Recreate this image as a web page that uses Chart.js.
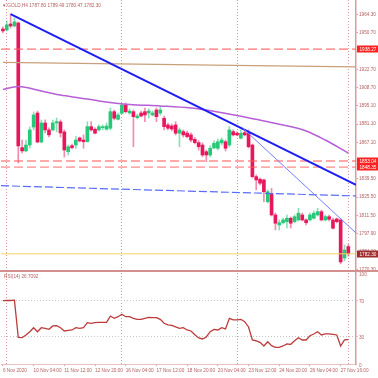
<!DOCTYPE html>
<html>
<head>
<meta charset="utf-8">
<script src="https://cdn.jsdelivr.net/npm/chart.js@4.4.0/dist/chart.umd.min.js"></script>
<style>
  html, body { margin: 0; padding: 0; background: #fff; }
  #wrap { position: relative; width: 378px; height: 378px; overflow: hidden; background: #fff; }
  #priceChart { position: absolute; left: 0; top: 0; }
  #rsiChart { position: absolute; left: 0; top: 270px; }
  .sep { position: absolute; left: 0; top: 270px; width: 378px; height: 2px; background: #d48f8f; }
  .lbl { position: absolute; font: 4.7px "Liberation Sans", Arial, sans-serif; color: #b4605f; white-space: nowrap; }
</style>
</head>
<body>
<div id="wrap">
  <canvas id="priceChart" width="378" height="271"></canvas>
  <canvas id="rsiChart" width="378" height="108"></canvas>
  <div class="sep"></div>
  <div class="lbl" id="title" style="left:3px;top:3px"></div>
  <div class="lbl" id="rsiTitle" style="left:4px;top:274px"></div>
</div>
<script>
// H4 bars, 6 Nov 2020 20:00 .. 30 Nov 2020 00:00
const open = [1953.6, 1952.9, 1957.4, 1955.9, 1958.2, 1863.2, 1860.7, 1865.2, 1878.9, 1889.6,
  1867.5, 1882.0, 1876.7, 1876.7, 1882.0, 1882.8, 1875.2, 1860.1, 1864.7, 1865.2,
  1870.6, 1869.0, 1867.7, 1879.2, 1877.2, 1876.7, 1878.4, 1877.2, 1878.0, 1890.6,
  1884.8, 1889.4, 1895.7, 1889.6, 1890.6, 1886.0, 1889.6, 1890.6, 1889.6, 1888.1,
  1891.9, 1889.6, 1885.6, 1880.5, 1879.7, 1880.5, 1874.2, 1875.4, 1874.2, 1872.9,
  1869.5, 1867.0, 1865.2, 1860.1, 1857.6, 1862.9, 1862.7, 1866.8, 1867.7, 1865.2,
  1875.4, 1874.2, 1870.4, 1874.6, 1874.4, 1865.2, 1841.1, 1839.1, 1838.6, 1822.0,
  1828.4, 1811.9, 1804.3, 1806.0, 1806.8, 1809.4, 1806.8, 1808.1, 1811.9, 1808.1,
  1808.1, 1809.4, 1811.9, 1814.4, 1808.1, 1810.6, 1808.1, 1808.9, 1808.1, 1779.1, 1787.80];
const high = [1955.2, 1959.7, 1965.0, 1962.0, 1959.0, 1869.0, 1869.0, 1879.0, 1890.4, 1891.1,
  1884.3, 1884.3, 1878.2, 1884.3, 1885.8, 1884.3, 1876.7, 1865.2, 1866.0, 1871.6,
  1871.3, 1872.9, 1883.0, 1883.0, 1878.2, 1880.5, 1880.5, 1882.0, 1893.4, 1891.9,
  1889.6, 1897.0, 1897.2, 1892.7, 1891.9, 1888.8, 1891.1, 1893.4, 1892.7, 1891.1,
  1893.4, 1894.2, 1887.3, 1882.0, 1881.2, 1883.0, 1878.2, 1876.7, 1875.9, 1874.4,
  1871.0, 1868.5, 1866.8, 1861.4, 1864.5, 1868.3, 1869.8, 1870.6, 1869.0, 1879.2,
  1876.7, 1875.2, 1876.7, 1875.9, 1876.7, 1866.0, 1842.4, 1840.1, 1839.3, 1831.0,
  1832.2, 1813.4, 1808.1, 1809.6, 1811.9, 1810.4, 1811.9, 1817.0, 1813.4, 1808.9,
  1813.4, 1814.9, 1817.0, 1815.7, 1811.9, 1811.9, 1809.6, 1809.6, 1808.9, 1789.0, 1789.49];
const low = [1950.6, 1952.1, 1954.4, 1955.2, 1851.5, 1859.2, 1859.9, 1862.9, 1876.7, 1866.8,
  1866.8, 1874.4, 1871.3, 1875.9, 1875.2, 1871.3, 1856.1, 1857.6, 1862.2, 1862.7,
  1867.5, 1862.7, 1867.5, 1875.9, 1873.6, 1875.9, 1876.7, 1876.7, 1876.7, 1884.3,
  1884.3, 1888.8, 1889.6, 1888.8, 1863.9, 1885.1, 1886.6, 1883.0, 1885.8, 1887.3,
  1883.0, 1888.1, 1876.7, 1876.7, 1875.9, 1872.9, 1863.9, 1871.3, 1870.6, 1867.5,
  1866.0, 1861.4, 1856.3, 1852.5, 1856.1, 1862.7, 1861.4, 1865.2, 1860.7, 1863.7,
  1872.1, 1872.1, 1869.8, 1872.1, 1862.9, 1840.1, 1831.0, 1834.8, 1822.0, 1821.0,
  1811.1, 1800.5, 1800.5, 1805.0, 1802.0, 1802.0, 1805.8, 1807.3, 1807.3, 1804.3,
  1807.3, 1808.9, 1811.1, 1807.3, 1807.3, 1807.3, 1801.2, 1805.8, 1774.6, 1776.9, 1780.47];
const close = [1952.1, 1956.7, 1955.9, 1959.0, 1864.5, 1860.7, 1865.2, 1876.7, 1888.1, 1867.5,
  1882.0, 1876.7, 1872.9, 1882.0, 1883.0, 1874.4, 1861.4, 1863.9, 1863.2, 1869.0,
  1868.3, 1867.7, 1879.2, 1876.7, 1874.2, 1879.2, 1878.8, 1879.7, 1890.6, 1885.6,
  1888.1, 1895.7, 1890.6, 1891.1, 1886.8, 1887.3, 1887.3, 1888.1, 1891.1, 1889.6,
  1886.8, 1891.9, 1879.2, 1878.0, 1877.4, 1874.2, 1876.7, 1872.9, 1871.6, 1869.0,
  1867.0, 1863.9, 1857.6, 1857.6, 1862.7, 1866.5, 1867.7, 1869.0, 1862.7, 1876.7,
  1872.9, 1872.9, 1874.2, 1872.9, 1863.9, 1841.1, 1838.6, 1836.1, 1829.6, 1829.6,
  1811.9, 1805.6, 1806.0, 1808.1, 1809.4, 1805.6, 1810.6, 1813.2, 1808.1, 1806.0,
  1811.9, 1813.2, 1814.4, 1808.1, 1810.6, 1808.6, 1801.8, 1806.8, 1776.1, 1785.2, 1782.30];
const rsi = [69.6, 70.0, 69.8, 70.2, 29.3, 28.9, 31.9, 35.5, 39.9, 35.5,
  39.9, 39.2, 38.1, 41.8, 42.1, 39.9, 36.3, 37.0, 37.4, 39.9,
  39.2, 39.9, 45.4, 44.7, 45.4, 45.8, 45.8, 45.8, 52.7, 50.2,
  52.0, 54.6, 52.0, 52.0, 50.2, 49.1, 49.1, 50.2, 51.3, 51.0,
  51.0, 49.1, 44.7, 42.9, 42.5, 40.7, 39.2, 39.9, 37.4, 36.3,
  32.2, 28.6, 27.5, 29.7, 35.5, 38.1, 37.4, 39.9, 38.5, 50.2,
  48.4, 48.4, 49.1, 46.5, 40.7, 26.4, 25.3, 23.8, 19.8, 24.5,
  20.2, 18.3, 18.3, 19.8, 22.0, 21.6, 25.6, 28.9, 26.4, 26.4,
  31.1, 33.0, 35.5, 31.9, 33.0, 33.0, 32.6, 31.9, 19.8, 26.4, 26.7092];

// moving averages (bar index, price)
const maFastIdx = [0, 4, 10, 15, 20, 25, 33, 41, 49, 56, 63, 68, 73, 79, 84, 90];
const maFastVal = [1907.5, 1909.8, 1906.4, 1903.3, 1901.1, 1898.8, 1896.1, 1895.0, 1893.4, 1890.4, 1886.6, 1883.5, 1880.5, 1875.9, 1869.0, 1859.1];
const maSlowIdx = [0, 30, 60, 92];
const maSlowVal = [1928.2, 1927.0, 1925.9, 1924.7];

// drawn objects
const trendMain = [[2, 1965.0], [92, 1834.8]];
const trendThin = [[62.5, 1878.0], [92, 1798.2]];
const trendDashed = [[-0.5, 1834.2], [92, 1826.4]];
const levels = [1938.27, 1853.04, 1848.35];

const weekStarts = [1, 31, 61, 90];
const priceTicks = [1964.30, 1950.70, 1936.70, 1922.70, 1908.70, 1895.10, 1881.10, 1867.10,
  1853.30, 1839.50, 1825.50, 1811.50, 1797.90, 1784.10, 1770.30];
const rsiTicks = [0, 30, 70, 100];
const timeTickIdx = [0, 8, 16, 24, 32, 40, 48, 56, 64, 72, 80, 88];
const timeTickLabels = ['6 Nov 2020', '10 Nov 04:00', '11 Nov 12:00', '12 Nov 20:00', '16 Nov 04:00',
  '17 Nov 12:00', '18 Nov 20:00', '20 Nov 04:00', '23 Nov 12:00', '24 Nov 20:00', '26 Nov 04:00', '27 Nov 16:00'];

const X_MIN = -0.5, X_MAX = 92;
const FONT = '"Liberation Sans", Arial, sans-serif';
const FSIZE = 4.7;
const AXIS_TXT = '#b4605f';
const AXIS_LINE = '#dc9c9c';
const GRID = '#dc9494';
const BULL = '#26c978', BEAR = '#e8175d';

const last = close.length - 1;
document.getElementById('title').textContent = '\u25BE GOLD,H4 ' + open[last].toFixed(2) + ' ' +
  high[last].toFixed(2) + ' ' + low[last].toFixed(2) + ' ' + close[last].toFixed(2);
document.getElementById('rsiTitle').textContent = 'RSI(14) ' + rsi[last].toFixed(4);

function seg(p) { return p.map(a => ({x: a[0], y: a[1]})) }
function flat(v) { return [{x: X_MIN, y: v}, {x: X_MAX, y: v}] }
function noPad(s) { s.paddingLeft = 0; s.paddingRight = 0; s.paddingTop = 0; s.paddingBottom = 0 }

const lineBase = {type: 'line', pointRadius: 0, fill: false, tension: 0};

const datasets = [
  {
    type: 'bar', label: 'wick', order: 3, grouped: false, barThickness: 1, minBarLength: 1,
    data: low.map((l, i) => ({x: i, y: [l, high[i]]})),
    backgroundColor: close.map((c, i) => c >= open[i] ? 'rgba(38,201,120,0.55)' : 'rgba(232,23,93,0.5)')
  },
  {
    type: 'bar', label: 'body', order: 2, grouped: false, barThickness: 3, minBarLength: 1,
    data: open.map((o, i) => ({x: i, y: [o, close[i]]})),
    backgroundColor: close.map((c, i) => c >= open[i] ? BULL : BEAR)
  },
  {...lineBase, order: 1, data: maSlowIdx.map((x, i) => ({x: x, y: maSlowVal[i]})), borderColor: '#c9a07a', borderWidth: 1.3},
  {...lineBase, order: 1, data: maFastIdx.map((x, i) => ({x: x, y: maFastVal[i]})), borderColor: '#b65fd6', borderWidth: 1.5, cubicInterpolationMode: 'monotone'},
  {...lineBase, order: 1, data: flat(close[last]), borderColor: '#f4d35e', borderWidth: 1},
  {...lineBase, order: 1, data: flat(levels[0]), borderColor: 'rgba(255,90,90,0.85)', borderWidth: 1.2, borderDash: [9, 4]},
  {...lineBase, order: 1, data: flat(levels[1]), borderColor: 'rgba(255,90,90,0.7)', borderWidth: 1.4, borderDash: [9, 4]},
  {...lineBase, order: 1, data: flat(levels[2]), borderColor: 'rgba(255,90,90,0.7)', borderWidth: 1.4, borderDash: [9, 4]},
  {...lineBase, order: 1, data: seg(trendDashed), borderColor: '#5a6cff', borderWidth: 1.2, borderDash: [8, 3]},
  {...lineBase, order: 0, data: seg(trendThin), borderColor: '#7080ff', borderWidth: 1},
  {...lineBase, order: 0, data: seg(trendMain), borderColor: '#1d1dfa', borderWidth: 2}
];

// red / dark price tags on the right axis
const tagPlugin = {
  id: 'tags',
  afterDraw(chart) {
    const ctx = chart.ctx, y = chart.scales.y, x0 = chart.chartArea.right + 1;
    ctx.save();
    ctx.font = FSIZE + 'px ' + FONT;
    ctx.textBaseline = 'middle';
    ctx.textAlign = 'left';
    const tag = (v, bg) => {
      const py = Math.round(y.getPixelForValue(v));
      ctx.fillStyle = bg;
      ctx.fillRect(x0, py - 3.5, 378 - x0, 7);
      ctx.fillStyle = '#fff';
      ctx.fillText(v.toFixed(2), x0 + 2.5, py + 0.5);
    };
    levels.forEach(v => tag(v, '#ff2020'));
    tag(close[last], '#9e2b2b');
    ctx.restore();
  }
};

new Chart(document.getElementById('priceChart'), {
  type: 'bar',
  data: {datasets: datasets},
  options: {
    responsive: false,
    animation: false,
    events: [],
    layout: {padding: {left: 1, right: 0, top: 0, bottom: 0}},
    plugins: {legend: {display: false}, tooltip: {enabled: false}},
    scales: {
      x: {
        type: 'linear', min: X_MIN, max: X_MAX, offset: false,
        afterBuildTicks: s => { s.ticks = weekStarts.map(v => ({value: v})) },
        afterFit: s => { s.height = 0; noPad(s) },
        ticks: {display: false},
        grid: {offset: false, drawTicks: false, color: GRID, lineWidth: 1},
        border: {display: false, dash: [1, 2]}
      },
      y: {
        position: 'right', min: 1769.2, max: 1975.7, beginAtZero: false,
        afterBuildTicks: s => { s.ticks = priceTicks.map(v => ({value: v})) },
        afterFit: s => { s.width = 22; noPad(s) },
        ticks: {
          font: {size: FSIZE, family: FONT}, color: AXIS_TXT, padding: 1,
          callback: v => v.toFixed(2)
        },
        grid: {drawOnChartArea: false, tickLength: 2, color: AXIS_LINE},
        border: {display: true, color: AXIS_LINE, width: 1.5}
      }
    }
  },
  plugins: [tagPlugin]
});

new Chart(document.getElementById('rsiChart'), {
  type: 'line',
  data: {
    datasets: [{
      data: rsi.map((v, i) => ({x: i, y: v})),
      borderColor: '#bb3b3b', borderWidth: 1.3, pointRadius: 0, tension: 0, fill: false
    }]
  },
  options: {
    responsive: false,
    animation: false,
    events: [],
    layout: {padding: {left: 1, right: 0, top: 3, bottom: 0}},
    plugins: {legend: {display: false}, tooltip: {enabled: false}},
    scales: {
      x: {
        type: 'linear', min: X_MIN, max: X_MAX, offset: false, position: 'bottom',
        afterBuildTicks: s => { s.ticks = timeTickIdx.map(v => ({value: v})) },
        afterFit: s => { s.height = 14; noPad(s) },
        ticks: {
          autoSkip: false, maxRotation: 0, align: 'start', padding: 2,
          font: {size: FSIZE, family: FONT}, color: AXIS_TXT,
          callback: (v, i) => timeTickLabels[i]
        },
        grid: {drawOnChartArea: false, tickLength: 2, color: AXIS_LINE},
        border: {display: true, color: '#e8c0c0', width: 1}
      },
      xg: {
        type: 'linear', min: X_MIN, max: X_MAX, offset: false, position: 'bottom',
        afterBuildTicks: s => { s.ticks = weekStarts.map(v => ({value: v})) },
        afterFit: s => { s.height = 0; noPad(s) },
        ticks: {display: false},
        grid: {drawTicks: false, color: GRID, lineWidth: 1},
        border: {display: false, dash: [1, 2]}
      },
      y: {
        position: 'right', min: 0, max: 100,
        afterBuildTicks: s => { s.ticks = rsiTicks.map(v => ({value: v})) },
        afterFit: s => { s.width = 22; noPad(s) },
        ticks: {font: {size: FSIZE, family: FONT}, color: AXIS_TXT, padding: 1, labelOffset: 1.5},
        grid: {
          tickLength: 2,
          color: c => (c.tick && (c.tick.value === 30 || c.tick.value === 70)) ? '#c4c4c4' : 'rgba(0,0,0,0)'
        },
        border: {display: true, color: AXIS_LINE, width: 1.5, dash: [1, 2]}
      }
    }
  }
});
</script>
</body>
</html>
